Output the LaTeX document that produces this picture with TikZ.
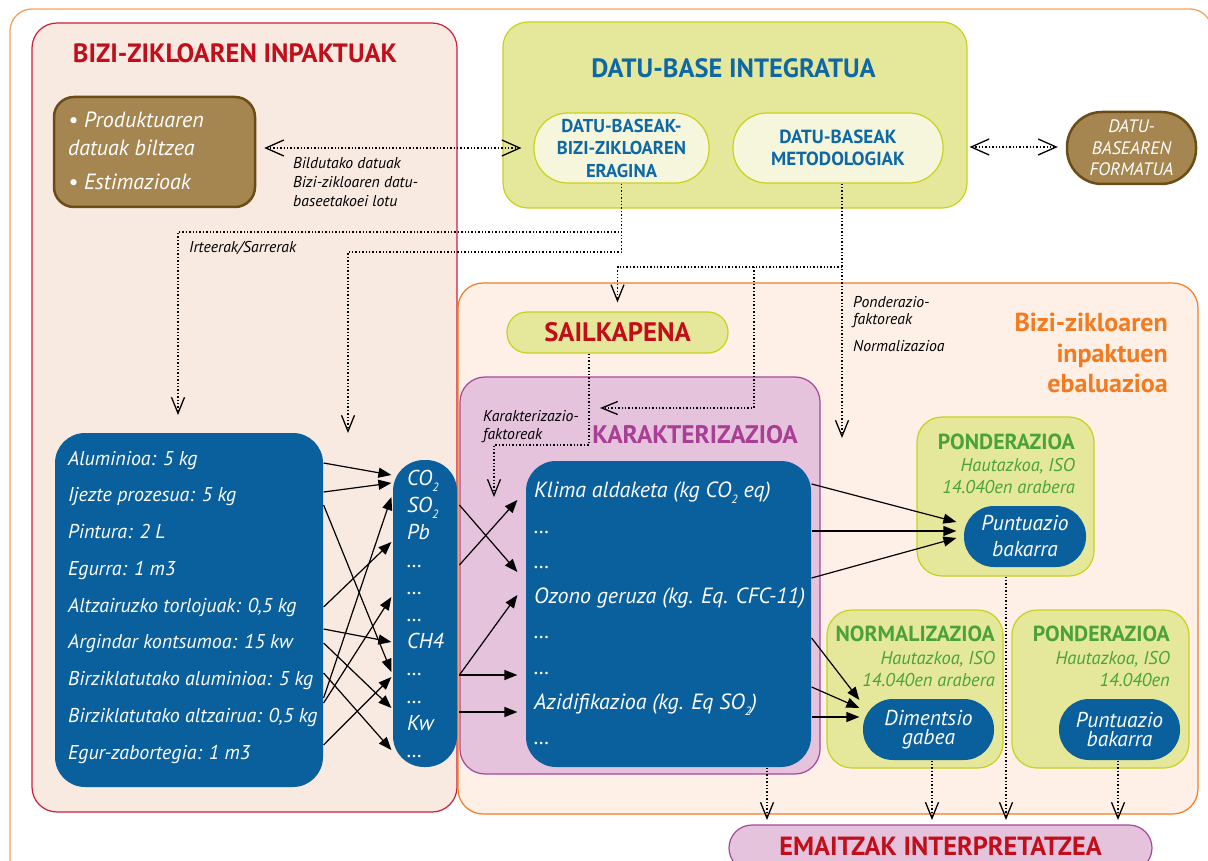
\documentclass[tikz,border=0pt]{standalone}
\usepackage{fontspec}
\setmainfont{PT Sans}
\usetikzlibrary{arrows.meta,calc}
\newcommand\myfs[2]{\fontsize{#1}{#2}\selectfont}
\newcommand\lowtwo{\raisebox{-0.55ex}{\fontsize{12}{12}\selectfont 2}}
\definecolor{cOuter}{HTML}{F5A25D}
\definecolor{cRedLine}{HTML}{CC1F3A}
\definecolor{cPink}{HTML}{F8E9E1}
\definecolor{cRed}{HTML}{C20E1A}
\definecolor{cGreenFill}{HTML}{E5E89A}
\definecolor{cGreenLine}{HTML}{C8D21E}
\definecolor{cPale}{HTML}{F5F6DC}
\definecolor{cBlueTxt}{HTML}{0F68A6}
\definecolor{cBrown}{HTML}{A68650}
\definecolor{cBrownLine}{HTML}{6B4C14}
\definecolor{cOrange}{HTML}{F47A1F}
\definecolor{cPeach}{HTML}{FEF0E6}
\definecolor{cPurpFill}{HTML}{E5C3DD}
\definecolor{cPurpLine}{HTML}{A4479B}
\definecolor{cPurpTxt}{HTML}{A83E95}
\definecolor{cBlue}{HTML}{0A5F9D}
\definecolor{cGreenTxt}{HTML}{4BA23B}
\tikzset{
  boxf/.style={draw, line width=1.2pt, inner sep=0pt, rounded corners=#1},
  sarr/.style={line width=1.2pt, -{Triangle[length=13pt,width=10pt]}},
  darr/.style={line width=1.4pt, dotted, -{Straight Barb[length=16pt,width=13pt,line width=1.3pt]}},
  dlr/.style={line width=1.4pt, dotted, {Straight Barb[length=18pt,width=16pt,line width=1.3pt]}-{Straight Barb[length=18pt,width=16pt,line width=1.3pt]}},
  capt/.style={inner sep=0pt, text depth=0pt},
  big/.style={capt, font=\myfs{26.5}{31}\bfseries, text height=18.5pt},
  evt/.style={capt, anchor=east, text=cOrange, font=\myfs{26}{30}\bfseries, text height=18pt},
  lst/.style={capt, anchor=west, text=white, font=\myfs{20}{24}\itshape, text height=14pt},
  cats/.style={capt, anchor=west, text=white, font=\myfs{22}{26}\itshape, text height=15.4pt},
  gasl/.style={capt, anchor=west, text=white, font=\myfs{21.5}{25}\itshape, text height=15pt},
  small/.style={capt, anchor=west, font=\myfs{15.7}{19}\itshape, text height=11pt},
  ghead/.style={capt, anchor=east, text=cGreenTxt, font=\myfs{21.8}{26}\bfseries, text height=15.3pt},
  gsub/.style={capt, anchor=east, text=cGreenTxt, font=\myfs{18.5}{22}\itshape, text height=13pt},
}
\begin{document}
\begin{tikzpicture}[x=1pt,y=-1pt]
\path[use as bounding box] (0,0) rectangle (1208,861);
\clip (0,0) rectangle (1208,861);
% outer frame
\draw[cOuter, line width=1.3pt, rounded corners=22pt] (10,9) rectangle (1212,900);
% big boxes
\node[boxf=25pt, draw=cRedLine, fill=cPink, minimum width=425pt, minimum height=789pt] (redbox) at (244.5,417.5) {};
\node[boxf=25pt, draw=cGreenLine, fill=cGreenFill, minimum width=464pt, minimum height=186pt] (greenbox) at (735,115) {};
\node[boxf=25pt, draw=cOrange, fill=cPeach, minimum width=740pt, minimum height=531pt] (evalbox) at (828,548.5) {};
\node[boxf=25pt, draw=cPurpLine, fill=cPurpFill, minimum width=360pt, minimum height=397pt] (purpbox) at (640,575.5) {};
% titles
\node[big, text=cRed] (tred) at (235,53) {BIZI-ZIKLOAREN INPAKTUAK};
\node[big, text=cBlueTxt] (tdb) at (733.5,68) {DATU-BASE INTEGRATUA};
\node[evt] (tev1) at (1168,322) {Bizi-zikloaren};
\node[evt] (tev2) at (1168,353) {inpaktuen};
\node[evt] (tev3) at (1168,383) {ebaluazioa};
\node[big, text=cPurpTxt, font=\myfs{25.4}{30}\bfseries, text height=17.8pt] (tkar) at (695,435) {KARAKTERIZAZIOA};
% brown box
\node[boxf=20pt, draw=cBrownLine, fill=cBrown, line width=2.5pt, minimum width=201pt, minimum height=110pt] (brownbox) at (154.5,152) {};
\node[lst, font=\myfs{22}{26}\itshape, text height=15.4pt] (b1) at (68,120) {• Produktuaren};
\node[lst, font=\myfs{22}{26}\itshape, text height=15.4pt] (b2) at (68,148) {datuak biltzea};
\node[lst, font=\myfs{22}{26}\itshape, text height=15.4pt] (b3) at (68,182) {• Estimazioak};
% database boxes
\node[boxf=34pt, draw=cGreenLine, fill=cPale, minimum width=175pt, minimum height=70pt, align=center, text=cBlueTxt, font=\myfs{18.6}{22.5}\bfseries] (db1) at (621.5,148) {DATU-BASEAK-\\BIZI-ZIKLOAREN\\ERAGINA};
\node[boxf=34pt, draw=cGreenLine, fill=cPale, minimum width=210pt, minimum height=70pt, align=center, text=cBlueTxt, font=\myfs{19}{21.5}\bfseries] (db2) at (838,148) {DATU-BASEAK\\METODOLOGIAK};
\node[boxf=35pt, draw=cBrownLine, fill=cBrown, line width=2.5pt, minimum width=129pt, minimum height=72pt, align=center, text=white, font=\myfs{18}{21.5}\itshape] (fmt) at (1131.5,148) {DATU-\\BASEAREN\\FORMATUA};
% small labels
\node[small] (l1) at (293,163) {Bildutako datuak};
\node[small] (l2) at (293,182) {Bizi-zikloaren datu-};
\node[small] (l3) at (293,201) {baseetakoei lotu};
\node[small] (l4) at (189,247) {Irteerak/Sarrerak};
\node[small] (l5) at (853,302) {Ponderazio-};
\node[small] (l6) at (853,319) {faktoreak};
\node[small] (l7) at (853,346) {Normalizazioa};
\node[small] (l8) at (483,416) {Karakterizazio-};
\node[small] (l9) at (483,434) {faktoreak};
% sailkapena
\node[boxf=20pt, draw=cGreenLine, fill=cGreenFill, minimum width=221pt, minimum height=41pt, text=cRed, font=\myfs{26.7}{31}\bfseries, text height=18.6pt, text depth=0pt] (sail) at (617.5,332.5) {SAILKAPENA};
% blue lists
\node[boxf=30pt, draw=none, fill=cBlue, minimum width=268pt, minimum height=354pt] (inbox) at (189,610) {};
\node[boxf=31pt, draw=none, fill=cBlue, minimum width=64pt, minimum height=307pt] (gas) at (425,613.5) {};
\node[boxf=30pt, draw=none, fill=cBlue, minimum width=285pt, minimum height=306pt] (cat) at (668.5,614) {};
\foreach \t [count=\i] in {Aluminioa: 5 kg, Ijezte prozesua: 5 kg, Pintura: 2 L, Egurra: 1 m3, {Altzairuzko torlojuak: 0,5 kg}, Argindar kontsumoa: 15 kw, Birziklatutako aluminioa: 5 kg, {Birziklatutako altzairua: 0,5 kg}, Egur-zabortegia: 1 m3}
  \node[lst] (in\i) at (68,{458+(\i-1)*36.75}) {\t};
\foreach \t [count=\i] in {CO\lowtwo, SO\lowtwo, Pb, \textellipsis, \textellipsis, \textellipsis, CH4, \textellipsis, \textellipsis, Kw, \textellipsis}
  \node[gasl] (gs\i) at (407,{478+(\i-1)*27.2}) {\t};
\foreach \t [count=\i] in {Klima aldaketa (kg CO\lowtwo\ eq), \textellipsis, \textellipsis, Ozono geruza (kg. Eq. CFC-11), \textellipsis, \textellipsis, Azidifikazioa (kg. Eq SO\lowtwo), \textellipsis}
  \node[cats] (c\i) at (534,{490+(\i-1)*35.3}) {\t};
% right green boxes
\node[boxf=25pt, draw=cGreenLine, fill=cGreenFill, minimum width=177pt, minimum height=159pt] (pond1) at (1005.5,496.5) {};
\node[boxf=25pt, draw=cGreenLine, fill=cGreenFill, minimum width=176pt, minimum height=158pt] (norm) at (915,689) {};
\node[boxf=25pt, draw=cGreenLine, fill=cGreenFill, minimum width=177pt, minimum height=158pt] (pond2) at (1100.5,689) {};
\node[ghead] (gh1) at (1075,442) {PONDERAZIOA};
\node[gsub] (gh2) at (1075,465) {Hautazkoa, ISO};
\node[gsub] (gh3) at (1075,487) {14.040en arabera};
\node[ghead] (gh4) at (995,634) {NORMALIZAZIOA};
\node[gsub] (gh5) at (995,658) {Hautazkoa, ISO};
\node[gsub] (gh6) at (995,680) {14.040en arabera};
\node[ghead] (gh7) at (1170,634) {PONDERAZIOA};
\node[gsub] (gh8) at (1170,658) {Hautazkoa, ISO};
\node[gsub] (gh9) at (1170,680) {14.040en};
\node[boxf=30pt, draw=none, fill=cBlue, minimum width=122pt, minimum height=61pt, align=center, text=white, font=\myfs{21.5}{26}\itshape] (pu1) at (1025,536.5) {Puntuazio\\bakarra};
\node[boxf=30pt, draw=none, fill=cBlue, minimum width=131pt, minimum height=61pt, align=center, text=white, font=\myfs{21.5}{19.5}\itshape] (dim) at (928.5,729.5) {Dimentsio\\gabea};
\node[boxf=30pt, draw=none, fill=cBlue, minimum width=121pt, minimum height=61pt, align=center, text=white, font=\myfs{21.5}{19.5}\itshape] (pu2) at (1119.5,729.5) {Puntuazio\\bakarra};
% emaitzak
\node[boxf=23pt, draw=cPurpLine, fill=cPurpFill, minimum width=423pt, minimum height=46pt, text=cRed, font=\myfs{26.3}{31}\bfseries, text height=18.4pt, text depth=0pt] (emaitzak) at (940.5,848) {};
\node[capt, text=cRed, font=\myfs{26.3}{31}\bfseries, text height=18.4pt] (temaitzak) at (940.5,846) {EMAITZAK INTERPRETATZEA};
% solid arrows
\foreach \a/\b in {463/475, 492/483, 505/672, 607/542, 629/642, 643/708, 673/750, 698/497, 703/597, 745/677}
  \draw[sarr] (inbox.east |- 0,\a) -- ($(gas.west |- 0,\b)+(-1,0)$);
\foreach \a/\b in {505/572, 565/500, 675/595, 675/675, 712/712}
  \draw[sarr] (purpbox.west |- 0,\a) -- ($(cat.west |- 0,\b)+(-8,0)$);
\foreach \a/\b in {484/522, 531/531, 578/538}
  \draw[sarr] (cat.east |- 0,\a) -- ($(pu1.west |- 0,\b)+(-7,0)$);
\foreach \a/\b in {638/700, 687/708, 717/717}
  \draw[sarr] (cat.east |- 0,\a) -- ($(dim.west |- 0,\b)+(-3,0)$);
% dotted connectors
\coordinate (tipA) at (178,415);
\coordinate (tipB) at (348,433);
\coordinate (m0) at ($(db2.south)+(4,0)$);
\coordinate (tipC) at (842,438);
\coordinate (tipD) at ($(sail.north)+(0,-9)$);
\coordinate (jn) at (754,267);
\coordinate (tipE) at (600,408);
\coordinate (tipF) at (494,497);
\coordinate (e1) at (767,820);
\coordinate (e2) at (932,820);
\coordinate (e3) at (1006,820);
\coordinate (e4) at (1118,820);
\draw[dlr] ($(brownbox.east |- 0,148)+(8,0)$) -- ($(db1.west)+(-12,0)$);
\draw[dlr] ($(greenbox.east |- 0,147)+(2,0)$) -- ($(fmt.west |- 0,147)+(-8,0)$);
\draw[darr] (db1.south) |- (tipA |- 0,232) -- (tipA);
\draw[darr] (db1.south) |- (tipB |- 0,252) -- (tipB);
\draw[darr] (m0) -- (tipC);
\draw[darr] (m0 |- jn) -| (tipD);
\draw[darr] (jn) |- (tipE);
\draw[darr] (sail.south -| 589,0) |- (tipF |- 0,445) -- (tipF);
\draw[darr] (cat.south -| e1) -- (e1);
\draw[darr] (dim.south -| e2) -- (e2);
\draw[darr] (pond1.south -| e3) -- (e3);
\draw[darr] (pu2.south -| e4) -- (e4);
\end{tikzpicture}
\end{document}
